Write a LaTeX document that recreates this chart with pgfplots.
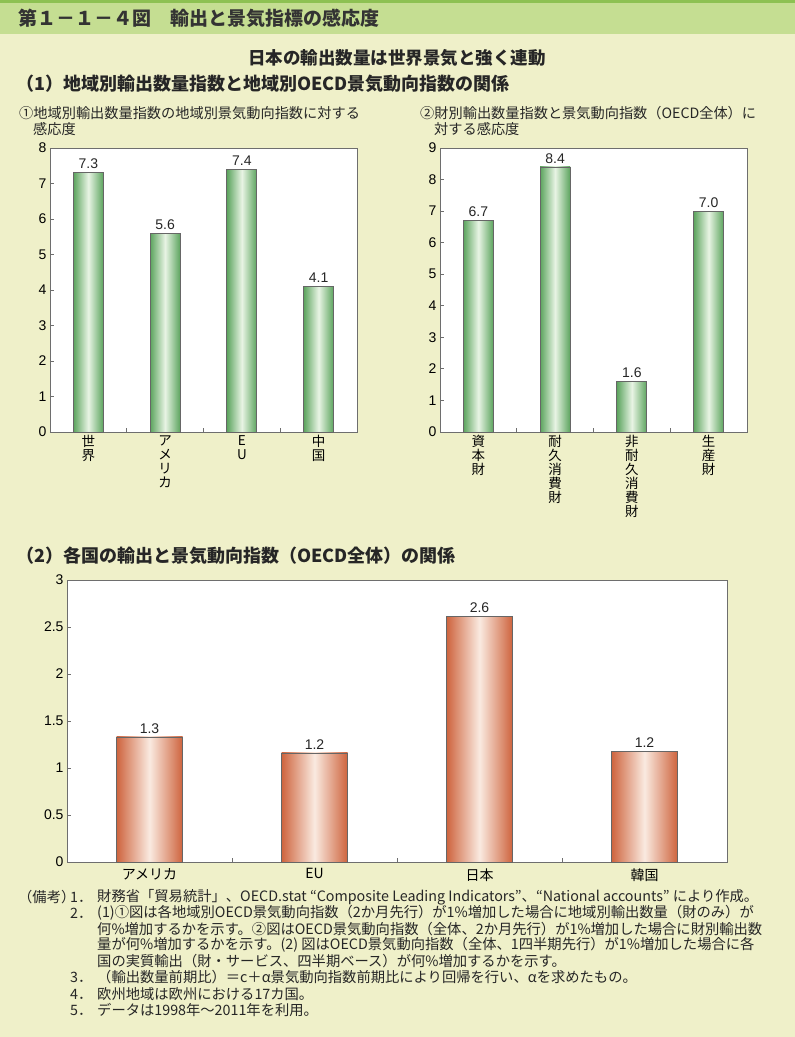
\documentclass[border=0pt]{standalone}
\usepackage{pgfplots}
\pgfplotsset{compat=1.18}
\usepackage{fontspec}
\setmainfont{Liberation Sans}
\newfontfamily\jp{Noto Sans CJK JP}

\definecolor{bgy}{RGB}{239,240,201}
\definecolor{hdr}{RGB}{197,222,146}
\definecolor{hdrline}{RGB}{141,193,82}
\definecolor{axg}{RGB}{110,110,110}
\definecolor{gD}{RGB}{92,164,94}
\definecolor{gL}{RGB}{232,244,228}
\definecolor{oD}{RGB}{206,100,62}
\definecolor{oL}{RGB}{250,234,224}

\pgfplotsset{
  panel/.style={
    scale only axis,
    anchor=south west,
    axis background/.style={fill=white},
    axis line style={axg, line width=0.8pt},
    tick style={axg, line width=0.8pt},
    tick align=inside,
    major tick length=4pt,
    tick pos=left,
    ymin=0, xmin=-0.5, xmax=3.5,
    xtick={0.5,1.5,2.5}, xticklabels={},
    extra x ticks={0,1,2,3},
    extra x tick style={major tick length=0pt},
    yticklabel style={font=\fontsize{14}{14}\selectfont},
    xticklabel style={align=center, font=\jp\fontsize{13.5}{14}\selectfont},
    /pgf/number format/assume math mode=true,
    nodes near coords={\pgfmathprintnumber[fixed,fixed zerofill,precision=1,assume math mode=true]{\pgfplotspointmeta}},
    nodes near coords style={font=\fontsize{14}{14}\selectfont, text=black!85},
  },
  gbar/.style={ybar, bar shift=0pt, draw=black!60, line width=0.8pt, left color=gD, right color=gD, middle color=gL},
  obar/.style={ybar, bar shift=0pt, draw=black!60, line width=0.8pt, left color=oD, right color=oD, middle color=oL},
}

\begin{document}
\begin{tikzpicture}
% background and header
\fill[bgy] (0pt,0pt) rectangle (795pt,-1037pt);
\fill[hdr] (0pt,0pt) rectangle (795pt,-34pt);
\fill[hdrline] (0pt,0pt) rectangle (795pt,-3pt);
\node[anchor=west, inner sep=0pt, text=black!80] at (18pt,-18pt)
  {\jp\bfseries\fontsize{19}{19}\selectfont 第１－１－４図　輸出と景気指標の感応度};
\node[inner sep=0pt, text=black!85] at (397pt,-58pt)
  {\jp\bfseries\fontsize{17.5}{18}\selectfont 日本の輸出数量は世界景気と強く連動};
\node[anchor=west, inner sep=0pt, text=black!85] at (16pt,-84pt)
  {\jp\bfseries\fontsize{18}{18}\selectfont （1）地域別輸出数量指数と地域別OECD景気動向指数の関係};
\node[anchor=west, inner sep=0pt, text=black!85] at (19pt,-113pt)
  {\jp\fontsize{14.2}{14}\selectfont ①地域別輸出数量指数の地域別景気動向指数に対する};
\node[anchor=west, inner sep=0pt, text=black!85] at (33pt,-129pt)
  {\jp\fontsize{14.2}{14}\selectfont 感応度};
\node[anchor=west, inner sep=0pt, text=black!85] at (420pt,-113pt)
  {\jp\fontsize{14.2}{14}\selectfont ②財別輸出数量指数と景気動向指数（OECD全体）に};
\node[anchor=west, inner sep=0pt, text=black!85] at (434pt,-129pt)
  {\jp\fontsize{14.2}{14}\selectfont 対する感応度};
\node[anchor=west, inner sep=0pt, text=black!85] at (16pt,-556pt)
  {\jp\bfseries\fontsize{18}{18}\selectfont （2）各国の輸出と景気動向指数（OECD全体）の関係};

% (1) chart 1
\begin{axis}[panel, at={(50pt,-432pt)}, width=307pt, height=284pt,
    ymax=8, ytick={0,1,2,3,4,5,6,7,8}, bar width=30pt,
    extra x tick labels={{世\\界},{ア\\メ\\リ\\カ},{E\\U},{中\\国}}]
\addplot[gbar] coordinates {(0,7.3)};
\addplot[gbar] coordinates {(1,5.6)};
\addplot[gbar] coordinates {(2,7.4)};
\addplot[gbar] coordinates {(3,4.1)};
\end{axis}

% (1) chart 2
\begin{axis}[panel, at={(440pt,-432pt)}, width=307pt, height=284pt,
    ymax=9, ytick={0,1,2,3,4,5,6,7,8,9}, bar width=30pt,
    extra x tick labels={{資\\本\\財},{耐\\久\\消\\費\\財},{非\\耐\\久\\消\\費\\財},{生\\産\\財}}]
\addplot[gbar] coordinates {(0,6.7)};
\addplot[gbar] coordinates {(1,8.4)};
\addplot[gbar] coordinates {(2,1.6)};
\addplot[gbar] coordinates {(3,7.0)};
\end{axis}

% (2) chart 3
\begin{axis}[panel, at={(67pt,-862pt)}, width=660pt, height=282pt,
    ymax=3, ytick={0,0.5,1,1.5,2,2.5,3}, bar width=66pt,
    xticklabel style={font=\jp\fontsize{14}{14}\selectfont, yshift=-3pt},
    extra x tick labels={アメリカ,EU,日本,韓国}]
\addplot[obar] coordinates {(0,1.33)};
\addplot[obar] coordinates {(1,1.16)};
\addplot[obar] coordinates {(2,2.61)};
\addplot[obar] coordinates {(3,1.18)};
\end{axis}

% notes
\begin{scope}[every node/.style={anchor=west, inner sep=0pt, text=black!85, font=\jp\fontsize{14.3}{14}\selectfont}]
\node at (18pt,-897pt) {（備考）};
\node at (70pt,-897pt) {1．};
\node at (97pt,-897pt) {財務省「貿易統計」、OECD.stat “Composite Leading Indicators”、“National accounts” により作成。};
\node at (70pt,-913pt) {2．};
\node at (97pt,-913pt) {(1)①図は各地域別OECD景気動向指数（2か月先行）が1\%増加した場合に地域別輸出数量（財のみ）が};
\node at (97pt,-929pt) {何\%増加するかを示す。②図はOECD景気動向指数（全体、2か月先行）が1\%増加した場合に財別輸出数};
\node at (97pt,-945pt) {量が何\%増加するかを示す。(2) 図はOECD景気動向指数（全体、1四半期先行）が1\%増加した場合に各};
\node at (97pt,-961pt) {国の実質輸出（財・サービス、四半期ベース）が何\%増加するかを示す。};
\node at (70pt,-977pt) {3．};
\node at (97pt,-977pt) {（輸出数量前期比）＝c＋α景気動向指数前期比により回帰を行い、αを求めたもの。};
\node at (70pt,-994pt) {4．};
\node at (97pt,-994pt) {欧州地域は欧州における17カ国。};
\node at (70pt,-1010pt) {5．};
\node at (97pt,-1010pt) {データは1998年～2011年を利用。};
\end{scope}
\end{tikzpicture}
\end{document}
